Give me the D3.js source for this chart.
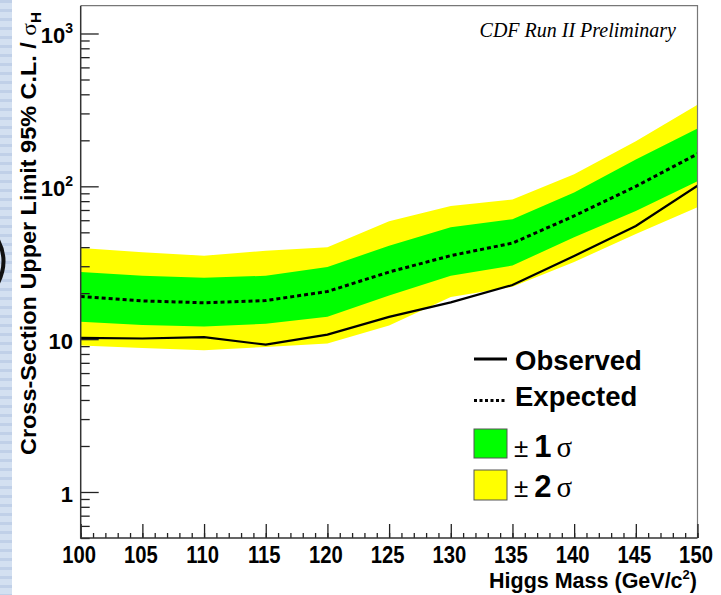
<html>
<head>
    <script src="https://d3js.org/d3.v7.min.js" charset="utf-8"></script>
</head>
<body style="margin:0;background:#fff;">
    <script type="text/javascript">
        var width = 721;
        var height = 595;

        // plot frame in page pixels
        var frame = { left: 80.7, right: 697.5, top: 5.7, bottom: 538 };

        // values (GeV, cross-section / sigma_H)
        const mass = [100, 105, 110, 115, 120, 125, 130, 135, 140, 145, 150];
        const observed = [10.2, 10.1, 10.3, 9.2, 10.7, 14.0, 17.4, 22.6, 35, 55, 101];
        const expected = [19.0, 17.8, 17.3, 17.9, 20.5, 27.5, 35.2, 42.5, 64, 100, 163];
        const band1Low = [13.0, 12.4, 12.1, 12.6, 14.0, 19.3, 26, 30.3, 46.5, 69, 108];
        const band1High = [27.5, 26, 25.2, 26, 29.7, 40.8, 54, 61, 91, 150, 239];
        const band2Low = [9.1, 8.76, 8.45, 8.9, 9.35, 12.3, 18.9, 22, 32, 48.7, 73];
        const band2High = [39.5, 37.1, 35.2, 37.9, 40, 59, 74.4, 82, 120, 197, 342];

        const xTicks = [100, 105, 110, 115, 120, 125, 130, 135, 140, 145, 150];
        const yMajor = [1, 10, 100, 1000];
        const yMinor = [0.5, 0.6, 0.7, 0.8, 0.9, 2, 3, 4, 5, 6, 7, 8, 9,
            20, 30, 40, 50, 60, 70, 80, 90, 200, 300, 400, 500, 600, 700, 800, 900];

        const svg = d3.select("body").append("svg")
            .attr("width", width)
            .attr("height", height)
            .style("display", "block");

        // bit of the slide background on the left edge
        svg.append("rect")
            .attr("x", 0).attr("y", 0)
            .attr("width", 12).attr("height", height)
            .attr("fill", "#d3e0f1");
        svg.append("g").selectAll("rect")
            .data(d3.range(0, height, 9))
            .join("rect")
            .attr("x", 0).attr("y", d => d)
            .attr("width", 12).attr("height", 3)
            .attr("fill", "#c0d0e8");
        // edge of a bracket from the slide
        svg.append("path")
            .attr("d", "M-2,240 Q9,261 -2,283")
            .attr("fill", "none")
            .attr("stroke", "#111")
            .attr("stroke-width", 4);

        const x = d3.scaleLinear()
            .domain([100, 150])
            .range([frame.left, frame.right]);

        const y = d3.scaleLog()
            .domain([0.5, 1520])
            .range([frame.bottom, frame.top]);

        svg.append("clipPath").attr("id", "plotclip")
            .append("rect")
            .attr("x", frame.left).attr("y", frame.top)
            .attr("width", frame.right - frame.left)
            .attr("height", frame.bottom - frame.top);

        const plot = svg.append("g").attr("clip-path", "url(#plotclip)");

        const rows = mass.map((m, i) => ({
            m: m, obs: observed[i], exp: expected[i],
            l1: band1Low[i], h1: band1High[i], l2: band2Low[i], h2: band2High[i]
        }));

        const area2 = d3.area().x(d => x(d.m)).y0(d => y(d.l2)).y1(d => y(d.h2));
        const area1 = d3.area().x(d => x(d.m)).y0(d => y(d.l1)).y1(d => y(d.h1));

        plot.append("path").attr("d", area2(rows)).attr("fill", "#ffff00");
        plot.append("path").attr("d", area1(rows)).attr("fill", "#00ff00");

        plot.append("path")
            .attr("d", d3.line().x(d => x(d.m)).y(d => y(d.exp))(rows))
            .attr("fill", "none")
            .attr("stroke", "#000")
            .attr("stroke-width", 3)
            .attr("stroke-dasharray", "4,3");

        plot.append("path")
            .attr("d", d3.line().x(d => x(d.m)).y(d => y(d.obs))(rows))
            .attr("fill", "none")
            .attr("stroke", "#000")
            .attr("stroke-width", 2.2);

        // frame: top and right in grey
        svg.append("path")
            .attr("d", `M${frame.left},${frame.top}H${frame.right}V${frame.bottom}`)
            .attr("fill", "none")
            .attr("stroke", "#777")
            .attr("stroke-width", 1.2);

        // axes (ticks inside the frame)
        const minorX = d3.range(100, 151, 1);
        svg.append("g")
            .attr("transform", `translate(0,${frame.bottom})`)
            .call(d3.axisTop(x).tickValues(minorX).tickSize(5).tickFormat("").tickSizeOuter(0))
            .call(g => g.select(".domain").remove());
        svg.append("g")
            .attr("transform", `translate(0,${frame.bottom})`)
            .call(d3.axisTop(x).tickValues(xTicks).tickSize(14).tickFormat("").tickSizeOuter(0))
            .call(g => g.select(".domain").remove());

        svg.append("g")
            .attr("transform", `translate(${frame.left},0)`)
            .call(d3.axisRight(y).tickValues(yMinor).tickSize(9).tickFormat("").tickSizeOuter(0))
            .call(g => g.select(".domain").remove());
        svg.append("g")
            .attr("transform", `translate(${frame.left},0)`)
            .call(d3.axisRight(y).tickValues(yMajor).tickSize(18).tickFormat("").tickSizeOuter(0))
            .call(g => g.select(".domain").remove());

        svg.selectAll(".tick line").attr("stroke", "#222").attr("stroke-width", 1.3);

        svg.append("path")
            .attr("d", `M${frame.left},${frame.top}V${frame.bottom}H${frame.right}`)
            .attr("fill", "none")
            .attr("stroke", "#333")
            .attr("stroke-width", 1.5);

        // tick labels
        const labelFont = "Liberation Sans, Arial, sans-serif";
        svg.append("g").selectAll("text")
            .data(xTicks)
            .join("text")
            .attr("transform", d => `translate(${x(d) - 1.5},563) scale(0.88,1)`)
            .attr("text-anchor", "middle")
            .style("font-family", labelFont)
            .style("font-weight", "bold")
            .style("font-size", "23px")
            .text(d => d);

        const yl = svg.append("g").selectAll("text")
            .data(yMajor)
            .join("text")
            .attr("x", 73)
            .attr("y", d => y(d) + 10)
            .attr("text-anchor", "end")
            .style("font-family", labelFont)
            .style("font-weight", "bold")
            .style("font-size", "22px");
        yl.each(function (d) {
            const t = d3.select(this);
            const e = Math.round(Math.log10(d));
            if (e <= 1) {
                t.text(d);
            } else {
                t.append("tspan").text("10");
                t.append("tspan")
                    .attr("dy", -10)
                    .style("font-size", "14px")
                    .text(e);
            }
        });

        // axis titles
        const xt = svg.append("text")
            .attr("x", 697)
            .attr("y", 588)
            .attr("text-anchor", "end")
            .style("font-family", labelFont)
            .style("font-weight", "bold")
            .style("font-size", "21.5px");
        xt.append("tspan").text("Higgs Mass (GeV/c");
        xt.append("tspan").attr("dy", -9).style("font-size", "13px").text("2");
        xt.append("tspan").attr("dy", 9).text(")");

        const yt = svg.append("text")
            .attr("transform", "translate(35.5,455) rotate(-90)")
            .attr("textLength", 443)
            .attr("lengthAdjust", "spacingAndGlyphs")
            .style("font-family", labelFont)
            .style("font-weight", "bold")
            .style("font-size", "21.5px");
        yt.append("tspan").text("Cross-Section Upper Limit 95% C.L. / ");
        yt.append("tspan").style("font-family", "Liberation Serif, serif").style("font-weight", "normal").text("σ");
        yt.append("tspan").attr("dy", 5).style("font-size", "14px").text("H");

        svg.append("text")
            .attr("x", 676)
            .attr("y", 37)
            .attr("text-anchor", "end")
            .style("font-family", "Liberation Serif, Times New Roman, serif")
            .style("font-style", "italic")
            .style("font-size", "20px")
            .text("CDF Run II Preliminary");

        // legend
        const legend = svg.append("g")
            .style("font-family", labelFont)
            .style("font-weight", "bold");

        legend.append("line")
            .attr("x1", 474).attr("x2", 507).attr("y1", 359).attr("y2", 359)
            .attr("stroke", "#000").attr("stroke-width", 3);
        legend.append("line")
            .attr("x1", 474).attr("x2", 507).attr("y1", 400.5).attr("y2", 400.5)
            .attr("stroke", "#000").attr("stroke-width", 3)
            .attr("stroke-dasharray", "3,2.5");
        legend.append("rect")
            .attr("x", 474).attr("y", 429).attr("width", 33).attr("height", 29)
            .attr("fill", "#00ff00").attr("stroke", "#555").attr("stroke-width", 1);
        legend.append("rect")
            .attr("x", 474).attr("y", 470).attr("width", 33).attr("height", 30)
            .attr("fill", "#ffff00").attr("stroke", "#555").attr("stroke-width", 1);

        legend.append("text").attr("x", 515).attr("y", 370)
            .style("font-size", "27.5px").text("Observed");
        legend.append("text").attr("x", 515).attr("y", 406)
            .style("font-size", "27.5px").text("Expected");

        [["1", 456.5], ["2", 496.5]].forEach(([n, yy]) => {
            const t = legend.append("text").attr("x", 514).attr("y", yy);
            t.append("tspan").style("font-weight", "normal").style("font-size", "26px").text("±");
            t.append("tspan").attr("dx", 6).style("font-size", "31px").text(n);
            t.append("tspan")
                .attr("dx", 5)
                .style("font-family", "Liberation Serif, serif")
                .style("font-weight", "normal")
                .style("font-size", "29px")
                .text("σ");
        });
    </script>
</body>
</html>
